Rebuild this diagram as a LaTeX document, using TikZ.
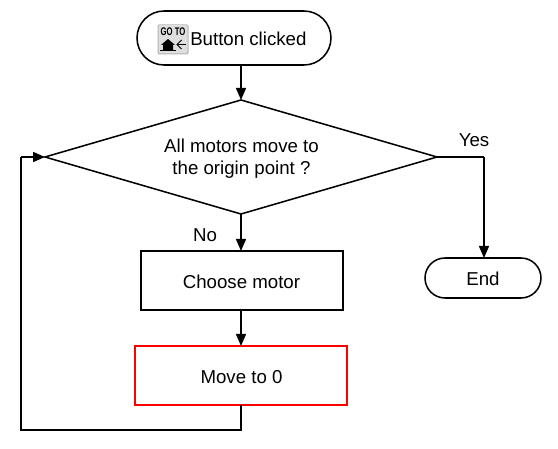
\documentclass[tikz,border=0pt]{standalone}
\usepackage{fontspec}
\setmainfont{Liberation Sans}
\usetikzlibrary{shapes.geometric,shapes.misc,arrows.meta}
\newlength{\px}\setlength{\px}{0.75pt}
\tikzset{
  x=0.75pt,y=-0.75pt,
  every node/.style={font=\fontsize{14pt}{16.5pt}\selectfont,text=black},
  base/.style={draw=black,line width=1.15pt,inner sep=0pt,outer sep=0pt,align=center},
  terminal/.style={base,rounded rectangle},
  boxnode/.style={base,rectangle},
  flow/.style={draw=black,line width=1.15pt,-{Triangle[length=9pt,width=7.5pt]}},
  plainline/.style={draw=black,line width=1.15pt},
  lab/.style={inner sep=0pt}
}
\begin{document}
\begin{tikzpicture}
\useasboundingbox (0,0) rectangle (558,449);
\node[terminal,minimum width=194\px,minimum height=54\px] (start) at (234,38) {};
\node[lab,anchor=west] (startlab) at (190,39) {Button clicked};
\node[base,diamond,shape aspect=3.44,minimum width=392\px,minimum height=114\px] (dec) at (241,157) {};
\node[lab,align=center] (q) at (241.5,159) {All motors move to\\the origin point ?};
\node[boxnode,minimum width=202\px,minimum height=59\px] (choose) at (242,280.5) {};
\node[lab] (choosetxt) at (241.5,282) {Choose motor};
\node[boxnode,draw=red,minimum width=212\px,minimum height=59\px] (move) at (241,375.5) {};
\node[lab] (movetxt) at (241.5,377) {Move to 0};
\node[terminal,minimum width=116\px,minimum height=40\px] (end) at (483,278) {};
\node[lab] (endtxt) at (483,279) {End};
\node[lab] (yes) at (474,140) {Yes};
\node[lab] (no) at (205,235) {No};
\coordinate (c1) at (241,430);
\coordinate (c2) at (21,430);
\coordinate (c3) at (21,157);
\coordinate (c4) at (484,157);
\draw[flow] (dec.north |- start.south) -- (dec.north);
\draw[flow] (dec.south) -- (choose.north -| dec.south);
\draw[flow] (choose.south -| dec.south) -- (move.north);
\draw[plainline] (move.south) -- (c1) -- (c2) -- (c3);
\draw[flow] (c3) -- (dec.west);
\draw[plainline] (dec.east) -- (c4);
\draw[flow] (c4) -- (end.north -| c4);
% icon
\fill[black!30,rounded corners=1.5pt] (157.5,24.5) rectangle (188.5,54.5);
\fill[black!13,rounded corners=1.5pt] (158.5,25) rectangle (187.5,53.5);
\node[inner sep=0pt,xscale=0.7,font=\bfseries\fontsize{8.3pt}{9pt}\selectfont] (icontext) at (173,31.5) {GO TO};
\fill[black] (161,45) -- (168,39) -- (175,45) -- (173,45) -- (173,50) -- (163,50) -- (163,45) -- cycle;
\draw[black,line width=0.6pt] (160,50.5) -- (176,50.5);
\draw[black,line width=0.7pt] (186,44.5) -- (177,44.5);
\draw[black,line width=0.7pt] (181.5,40) -- (177,44.5) -- (181.5,49);
\end{tikzpicture}
\end{document}
